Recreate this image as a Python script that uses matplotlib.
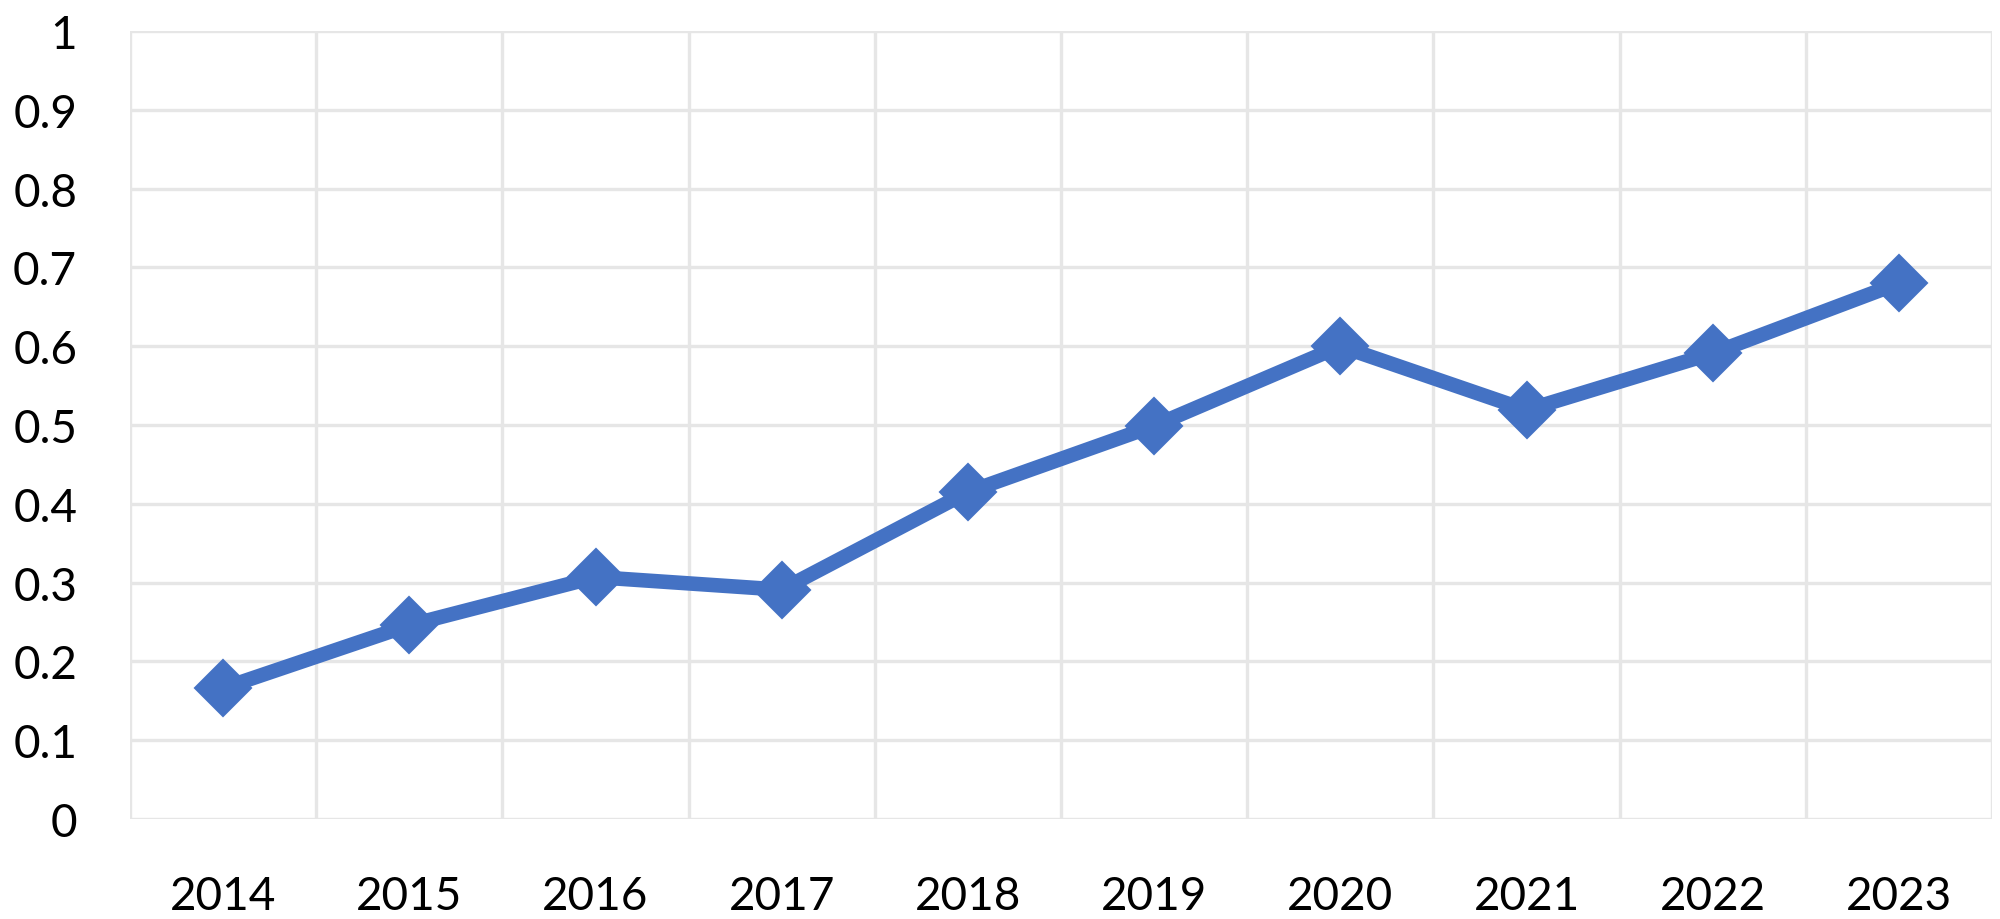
import matplotlib
matplotlib.use("Agg")
import matplotlib.pyplot as plt
import numpy as np

years = ["2014", "2015", "2016", "2017", "2018", "2019", "2020", "2021", "2022", "2023"]
values = [0.166, 0.246, 0.307, 0.291, 0.415, 0.499, 0.600, 0.519, 0.591, 0.680]
y_ticks = [0, 0.1, 0.2, 0.3, 0.4, 0.5, 0.6, 0.7, 0.8, 0.9, 1.0]
y_tick_labels = ["0", "0.1", "0.2", "0.3", "0.4", "0.5", "0.6", "0.7", "0.8", "0.9", "1"]

plt.rcParams['font.family'] = ['Lato', 'DejaVu Sans']

fig = plt.figure(figsize=(20, 9.2), dpi=100)
ax = fig.add_axes([0.065, 0.1087, 0.931, 0.8565])

x = np.arange(len(years))
ax.plot(x, values, color="#4472C4", linewidth=10.5, marker="D", markersize=29,
        markeredgewidth=1.5, markeredgecolor="#4472C4", markerfacecolor="#4472C4",
        solid_joinstyle="round", zorder=3)

ax.set_xlim(-0.5, len(years) - 0.5)
ax.set_ylim(0, 1)
ax.set_xticks(x)
ax.set_xticklabels(years)
ax.set_xticks(np.arange(-0.5, len(years), 1.0), minor=True)
ax.set_yticks(y_ticks)
ax.set_yticklabels(y_tick_labels)

grid_color = "#E6E6E6"
ax.grid(True, which="minor", axis="x", color=grid_color, linewidth=2.4, zorder=0)
ax.grid(True, which="major", axis="y", color=grid_color, linewidth=2.4, zorder=0)
ax.grid(False, which="major", axis="x")
for s in ax.spines.values():
    s.set_visible(False)

ax.tick_params(axis="both", which="both", length=0, labelsize=33, colors="black")
ax.tick_params(axis="x", pad=40)
ax.tick_params(axis="y", pad=38)

fig.savefig("out.png", dpi=100, facecolor="white")
